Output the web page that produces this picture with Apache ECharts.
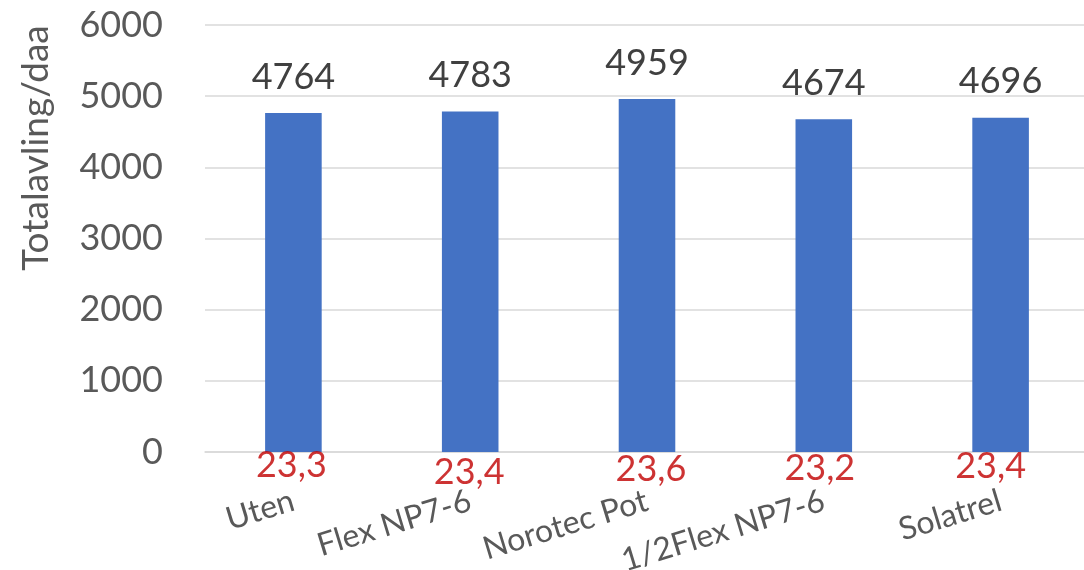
<!DOCTYPE html>
<html><head><meta charset="utf-8">
<script src="https://cdn.jsdelivr.net/npm/echarts@6/dist/echarts.min.js"></script>
<style>html,body{margin:0;padding:0;background:#fff}#c{width:1084px;height:570px}</style>
</head><body><div id="c"></div>
<script>
const categories = ['Uten', 'Flex NP7-6', 'Norotec Pot', '1/2Flex NP7-6', 'Solatrel'];
const yieldValues = [4764, 4783, 4959, 4674, 4696];
const redValues = ['23,3', '23,4', '23,6', '23,2', '23,4'];
const yTicks = [0, 1000, 2000, 3000, 4000, 5000, 6000];
const redOffsets = [[-2, 13], [-1, 20], [4, 17], [-4, 16], [-10, 14]];

const FONT = 'Lato';
const chart = echarts.init(document.getElementById('c'));
chart.setOption({
  animation: false,
  grid: { left: 205, top: 25, bottom: 118, width: 884, outerBoundsMode: 'none', containLabel: false },
  xAxis: {
    type: 'category', data: categories,
    axisLine: { lineStyle: { color: '#D9D9D9', width: 1.5 } },
    axisTick: { show: false },
    axisLabel: { rotate: 17, color: '#595959', fontSize: 32, fontFamily: FONT, margin: 48, interval: 0 }
  },
  yAxis: {
    type: 'value', min: yTicks[0], max: yTicks[yTicks.length - 1], interval: 1000,
    axisLine: { show: false }, axisTick: { show: false },
    splitLine: { lineStyle: { color: '#D9D9D9', width: 1.5 } },
    axisLabel: { color: '#595959', fontSize: 36, fontFamily: FONT, margin: 42, formatter: v => String(v) }
  },
  graphic: [{
    type: 'text', x: 36, y: 148, rotation: Math.PI / 2,
    style: { text: 'Totalavling/daa', fill: '#595959', font: '37px ' + FONT, align: 'center', verticalAlign: 'middle' }
  }],
  series: [{
    type: 'bar', data: yieldValues, barWidth: '32%',
    itemStyle: { color: '#4472C4' },
    label: { show: true, position: 'top', distance: 18, color: '#404040', fontSize: 36, fontFamily: FONT }
  }, {
    type: 'scatter', symbolSize: 0, silent: true,
    data: redValues.map((v, i) => ({ value: 0, label: { offset: redOffsets[i] } })),
    label: {
      show: true, position: 'inside', color: '#C00000', fontSize: 36, fontFamily: FONT,
      formatter: p => redValues[p.dataIndex]
    }
  }]
});
</script></body></html>
